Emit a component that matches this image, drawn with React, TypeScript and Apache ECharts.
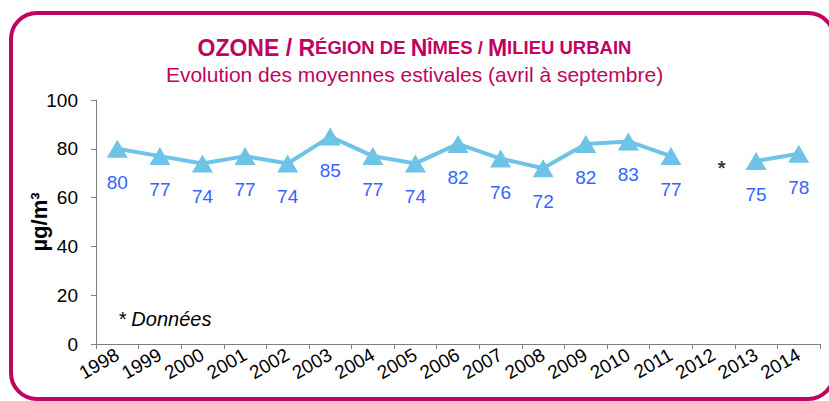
import React, { useEffect, useRef } from "react";
import * as echarts from "echarts";

const years = ["1998","1999","2000","2001","2002","2003","2004","2005","2006","2007","2008","2009","2010","2011","2012","2013","2014"];
const ozone: (number | null)[] = [80, 77, 74, 77, 74, 85, 77, 74, 82, 76, 72, 82, 83, 77, null, 75, 78];
const noteYear = "2012";
const noteLevel = 72;
const yTicks = { min: 0, max: 100, interval: 20 };

const FONT = "Liberation Sans, Arial, sans-serif";
const MAGENTA = "#C0045F";
const LINE = "#6EC3E6";
const LABEL = "#3366FF";

export default function App() {
  const ref = useRef<HTMLDivElement>(null);
  useEffect(() => {
    document.body.style.margin = "0";
    const chart = echarts.init(ref.current!, null, { renderer: "svg" });
    chart.setOption({
      animation: false,
      backgroundColor: "#ffffff",
      textStyle: { fontFamily: FONT },
      title: [
        {
          left: "center",
          top: 31,
          text: "{b|OZONE / R}{s|ÉGION DE }{b|N}{s|ÎMES / }{b|M}{s|ILIEU URBAIN}",
          textStyle: {
            rich: {
              b: { fontSize: 23, fontWeight: "bold", color: MAGENTA, fontFamily: FONT },
              s: { fontSize: 18.5, fontWeight: "bold", color: MAGENTA, fontFamily: FONT },
            },
          },
        },
        {
          left: "center",
          top: 59,
          text: "Evolution des moyennes estivales (avril à septembre)",
          textStyle: { fontSize: 21, fontWeight: "normal", color: MAGENTA, fontFamily: FONT },
        },
      ],
      grid: { left: 96, right: 9, top: 100, bottom: 57, containLabel: false },
      xAxis: {
        type: "category",
        data: years,
        boundaryGap: true,
        axisLine: { lineStyle: { color: "#808080", width: 1 } },
        axisTick: { show: true, alignWithLabel: false, length: 5, lineStyle: { color: "#808080" } },
        axisLabel: { rotate: 30, fontSize: 19, color: "#000", margin: 9, fontFamily: FONT, interval: 0 },
        splitLine: { show: false },
      },
      yAxis: {
        type: "value",
        min: yTicks.min,
        max: yTicks.max,
        interval: yTicks.interval,
        name: "µg/m³",
        nameLocation: "middle",
        nameGap: 46,
        nameMoveOverlap: false,
        nameTextStyle: { fontSize: 22, fontWeight: "bold", color: "#000", fontFamily: FONT },
        axisLine: { show: true, lineStyle: { color: "#808080", width: 1 } },
        axisTick: { show: true, length: 5, lineStyle: { color: "#808080" } },
        axisLabel: { fontSize: 19, color: "#000", margin: 18, fontFamily: FONT },
        splitLine: { show: false },
      },
      series: [
        {
          type: "line",
          data: ozone,
          connectNulls: false,
          symbol: "triangle",
          symbolSize: [21, 18],
          lineStyle: { color: LINE, width: 4 },
          itemStyle: { color: LINE },
          label: {
            show: true,
            position: "bottom",
            distance: 15,
            fontSize: 19,
            color: LABEL,
            fontFamily: FONT,
          },
        },
        {
          type: "scatter",
          data: [[noteYear, noteLevel]],
          symbolSize: 0,
          label: {
            show: true,
            position: "inside",
            offset: [8, 0],
            formatter: "*",
            fontSize: 20,
            fontWeight: "bold",
            color: "#000",
            fontFamily: FONT,
          },
        },
      ],
      graphic: [
        {
          type: "rect",
          shape: { x: 11, y: 13, width: 823, height: 386, r: 26 },
          style: { fill: "none", stroke: MAGENTA, lineWidth: 4 },
          silent: true,
        },
        {
          type: "text",
          left: 118,
          top: 309,
          style: { text: "* Données", fontSize: 20, fontStyle: "italic", fill: "#000", fontFamily: FONT },
        },
      ],
    });
    return () => chart.dispose();
  }, []);
  return <div ref={ref} style={{ width: 829, height: 401 }} />;
}
